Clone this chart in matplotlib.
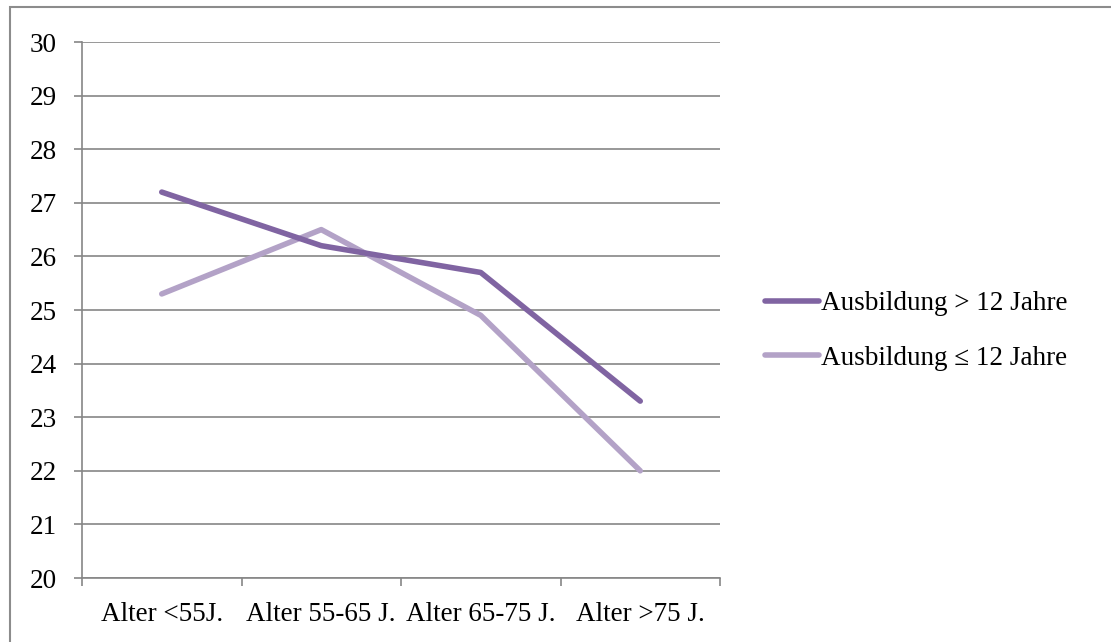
import matplotlib
matplotlib.use("Agg")
import matplotlib.pyplot as plt
from matplotlib.patches import Rectangle

categories = ["Alter <55J.", "Alter 55-65 J.", "Alter 65-75 J.", "Alter >75 J."]
series_high = [27.2, 26.2, 25.7, 23.3]
series_low = [25.3, 26.5, 24.9, 22.0]
label_high = "Ausbildung > 12 Jahre"
label_low = "Ausbildung ≤ 12 Jahre"
y_ticks = list(range(20, 31))

plt.rcParams['font.family'] = ['Liberation Serif', 'DejaVu Serif']
FS = 19.5

fig = plt.figure(figsize=(11.11, 6.42), dpi=100)
ax = fig.add_axes([82 / 1111, 1 - 578 / 642, (720 - 82) / 1111, (578 - 42) / 642])

grey = "#868686"
x = list(range(len(categories)))
ax.plot(x, series_high, color="#8064A2", lw=4, solid_joinstyle="round",
        solid_capstyle="round", label=label_high, zorder=3)
ax.plot(x, series_low, color="#B3A2C7", lw=4, solid_joinstyle="round",
        solid_capstyle="round", label=label_low, zorder=2)

ax.set_xlim(-0.5, len(categories) - 0.5)
ax.set_ylim(20, 30)
ax.set_yticks(y_ticks)
ax.set_yticklabels([str(v) for v in y_ticks], fontsize=FS)
ax.set_xticks(x)
ax.set_xticklabels(categories, fontsize=FS)
ax.set_xticks([i - 0.5 for i in range(len(categories) + 1)], minor=True)
ax.tick_params(axis="x", which="major", length=0, pad=17)
ax.tick_params(axis="x", which="minor", length=6, width=1.2, color=grey, direction="out")
ax.tick_params(axis="y", length=6, width=1.2, color=grey, pad=12)
ax.grid(axis="y", color=grey, lw=1.2)
ax.set_axisbelow(True)
for s in ["top", "right"]:
    ax.spines[s].set_visible(False)
for s in ["left", "bottom"]:
    ax.spines[s].set_color(grey)
    ax.spines[s].set_linewidth(1.2)

leg = ax.legend(loc="center left", bbox_to_anchor=(765 / 1111, 1 - 331 / 642),
                bbox_transform=fig.transFigure, frameon=False, fontsize=FS,
                handlelength=2.0, handletextpad=0.05, labelspacing=1.1,
                borderaxespad=0, borderpad=0)

fig.patches.append(Rectangle((10 / 1111, -0.05), 1.2, 1 - 7 / 642 + 0.05,
                             transform=fig.transFigure, fill=False,
                             edgecolor="#8c8c8c", lw=1.5))

fig.savefig("out.png", dpi=100)
